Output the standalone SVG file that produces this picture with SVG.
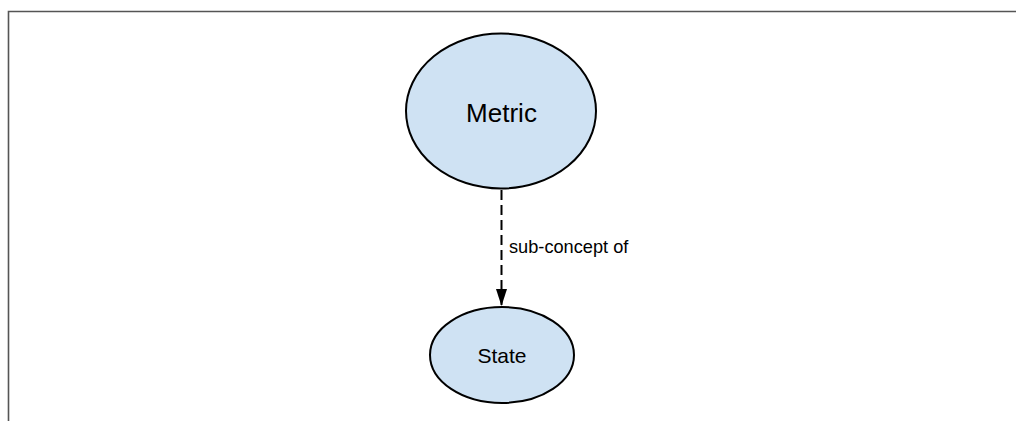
<svg xmlns="http://www.w3.org/2000/svg" width="1016" height="421" viewBox="0 0 1016 421">
<style>
.node{fill:#cfe2f3;stroke:#000;stroke-width:2}
.lbl{font-family:"Liberation Sans",Arial,sans-serif;fill:#000;text-anchor:middle}
.edge{stroke:#000;stroke-width:2;stroke-dasharray:10,5;fill:none}
.elbl{font-family:"Liberation Sans",Arial,sans-serif;font-size:18.2px;fill:#000}
</style>
<defs>
<marker id="arr" markerWidth="18" markerHeight="12" refX="17" refY="6" orient="auto" markerUnits="userSpaceOnUse">
<path d="M0,0.5 L17,6 L0,11.5 Z" fill="#000"/>
</marker>
</defs>
<rect width="1016" height="421" fill="#fff"/>
<path d="M8.5,421 V11.5 H1016" fill="none" stroke="#555" stroke-width="1.6"/>
<g id="connectors">
<line class="edge" x1="501.5" y1="190" x2="501.5" y2="306" marker-end="url(#arr)"/>
<text class="elbl" x="509" y="253">sub-concept of</text>
</g>
<g id="node-metric">
<ellipse class="node" cx="501" cy="111" rx="95" ry="77.5"/>
<text class="lbl" x="501.5" y="122" font-size="26">Metric</text>
</g>
<g id="node-state">
<ellipse class="node" cx="502" cy="355" rx="72" ry="48"/>
<text class="lbl" x="502" y="363" font-size="21">State</text>
</g>
</svg>
